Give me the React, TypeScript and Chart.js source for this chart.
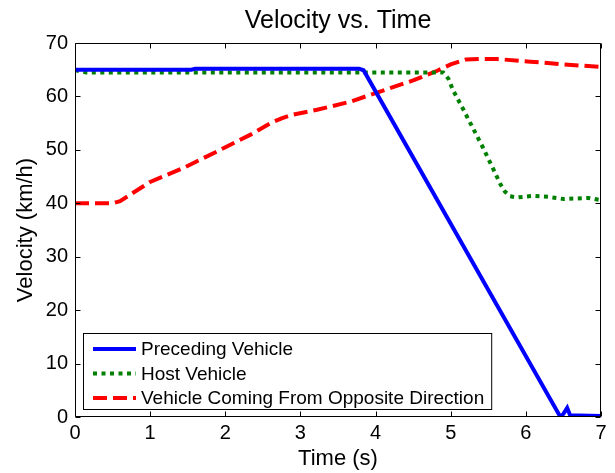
import { useEffect, useRef } from "react";
import { Chart, registerables } from "chart.js";

Chart.register(...registerables);

const FONT = "'Liberation Sans', Arial, Helvetica, sans-serif";

const chartTitle = "Velocity vs. Time";
const xTitle = "Time (s)";
const yTitle = "Velocity (km/h)";
const xTickValues = [0, 1, 2, 3, 4, 5, 6, 7];
const yTickValues = [0, 10, 20, 30, 40, 50, 60, 70];

const seriesLabels = [
  "Preceding Vehicle",
  "Host Vehicle",
  "Vehicle Coming From Opposite Direction",
];

const precedingTime = [0, 1.55, 1.6, 3.78, 3.84, 6.46, 6.5, 6.55, 6.59, 6.7, 7];
const precedingVel = [65.0, 65.0, 65.2, 65.2, 64.9, 0, 0.6, 1.7, 0.3, 0.3, 0.2];

const hostTime = [0, 0.15, 4.9, 4.97, 5.03, 5.17, 5.43, 5.57, 5.66, 5.72, 5.79, 5.89, 6.1, 6.3, 6.5, 6.83, 7];
const hostVel = [64.9, 64.5, 64.5, 63.3, 61.2, 57.5, 50.4, 46.3, 43.6, 42.2, 41.3, 41.1, 41.4, 41.2, 40.8, 41.0, 40.6];

const oppositeTime = [0, 0.5, 0.6, 0.8, 1.0, 1.44, 1.89, 2.33, 2.6, 2.75, 2.9, 3.22, 3.66, 3.93, 4.5, 4.82, 5.0, 5.2, 5.4, 5.62, 6.06, 6.5, 7];
const oppositeVel = [40, 40, 40.4, 42.2, 44, 46.6, 49.7, 52.8, 55.0, 55.9, 56.6, 57.5, 59.0, 60.3, 63.0, 64.8, 66.0, 66.9, 67.0, 67.0, 66.5, 66.0, 65.5];

const toPoints = (t: number[], v: number[]) => t.map((x, i) => ({ x, y: v[i] }));

const boxPlugin = {
  id: "matlabBox",
  afterDraw(chart: any) {
    const { ctx, chartArea } = chart;
    const { left, right, top, bottom } = chartArea;
    const xs = chart.scales.x;
    const ys = chart.scales.y;
    ctx.save();
    ctx.fillStyle = "#000";
    ctx.font = `25px ${FONT}`;
    ctx.textAlign = "center";
    ctx.textBaseline = "alphabetic";
    ctx.fillText(chartTitle, (left + right) / 2, 28);

    ctx.strokeStyle = "#000";
    ctx.lineWidth = 1;
    const L = Math.round(left) + 0.5;
    const R = Math.round(right) - 0.5;
    const T = Math.round(top) + 0.5;
    const B = Math.round(bottom) - 0.5;
    ctx.beginPath();
    ctx.rect(L, T, R - L, B - T);
    ctx.stroke();
    const tl = 5;
    ctx.beginPath();
    xTickValues.forEach((v) => {
      const px = Math.round(xs.getPixelForValue(v)) + 0.5;
      ctx.moveTo(px, B);
      ctx.lineTo(px, B - tl);
      ctx.moveTo(px, T);
      ctx.lineTo(px, T + tl);
    });
    yTickValues.forEach((v) => {
      const py = Math.round(ys.getPixelForValue(v)) + 0.5;
      ctx.moveTo(L, py);
      ctx.lineTo(L + tl, py);
      ctx.moveTo(R, py);
      ctx.lineTo(R - tl, py);
    });
    ctx.stroke();

    ctx.font = `19px ${FONT}`;
    const rowH = 24.5;
    const lx = Math.round(left) + 8;
    const textX = lx + 58;
    let maxW = 0;
    chart.data.datasets.forEach((ds: any) => {
      maxW = Math.max(maxW, ctx.measureText(ds.label).width);
    });
    const bw = textX - lx + maxW + 7;
    const bh = 76;
    const by = Math.round(bottom) - 8 - bh;
    ctx.fillStyle = "#fff";
    ctx.fillRect(lx + 0.5, by + 0.5, bw, bh);
    ctx.strokeStyle = "#000";
    ctx.lineWidth = 1;
    ctx.strokeRect(lx + 0.5, by + 0.5, bw, bh);
    chart.data.datasets.forEach((ds: any, i: number) => {
      const cy = by + 16 + i * rowH;
      ctx.save();
      ctx.strokeStyle = ds.borderColor;
      ctx.lineWidth = ds.borderWidth;
      ctx.setLineDash(ds.borderDash || []);
      ctx.lineCap = "butt";
      ctx.beginPath();
      ctx.moveTo(lx + 10, cy);
      ctx.lineTo(lx + 53, cy);
      ctx.stroke();
      ctx.restore();
      ctx.fillStyle = "#000";
      ctx.textAlign = "left";
      ctx.textBaseline = "middle";
      ctx.fillText(ds.label, textX, cy + 1);
    });
    ctx.restore();
  },
};

export default function App() {
  const ref = useRef<HTMLCanvasElement | null>(null);
  useEffect(() => {
    if (!ref.current) return;
    const chart = new Chart(ref.current, {
      type: "line",
      data: {
        datasets: [
          {
            label: seriesLabels[0],
            data: toPoints(precedingTime, precedingVel),
            borderColor: "#0000ff",
            borderWidth: 4,
            pointRadius: 0,
            tension: 0,
          },
          {
            label: seriesLabels[1],
            data: toPoints(hostTime, hostVel),
            borderColor: "#008000",
            borderWidth: 4,
            borderDash: [4, 4.5],
            pointRadius: 0,
            tension: 0,
          },
          {
            label: seriesLabels[2],
            data: toPoints(oppositeTime, oppositeVel),
            borderColor: "#ff0000",
            borderWidth: 4,
            borderDash: [14, 6],
            pointRadius: 0,
            tension: 0,
          },
        ],
      },
      options: {
        responsive: false,
        animation: false,
        layout: { padding: { top: 43, right: 14, left: 0, bottom: 0 } },
        plugins: {
          legend: { display: false },
          title: { display: false },
          tooltip: { enabled: false },
        },
        scales: {
          x: {
            type: "linear",
            min: 0,
            max: 7,
            afterBuildTicks: (s: any) => {
              s.ticks = xTickValues.map((value) => ({ value }));
            },
            afterFit: (s: any) => {
              s.height = 56;
            },
            grid: { display: false, drawTicks: false, tickLength: 0 },
            border: { display: false },
            ticks: {
              color: "#000",
              font: { family: FONT, size: 20 },
              padding: 4,
              maxRotation: 0,
              autoSkip: false,
            },
            title: {
              display: true,
              text: xTitle,
              color: "#000",
              font: { family: FONT, size: 22 },
              padding: { top: 0, bottom: 1 },
            },
          },
          y: {
            type: "linear",
            min: 0,
            max: 70,
            afterBuildTicks: (s: any) => {
              s.ticks = yTickValues.map((value) => ({ value }));
            },
            afterFit: (s: any) => {
              s.width = 75;
            },
            grid: { display: false, drawTicks: false, tickLength: 0 },
            border: { display: false },
            ticks: {
              color: "#000",
              font: { family: FONT, size: 20 },
              padding: 7,
              autoSkip: false,
            },
            title: {
              display: true,
              text: yTitle,
              color: "#000",
              font: { family: FONT, size: 22 },
              padding: { top: 13, bottom: 0 },
            },
          },
        },
      },
      plugins: [boxPlugin],
    } as any);
    return () => chart.destroy();
  }, []);
  return (
    <div style={{ position: "absolute", left: 0, top: 0, width: 615, height: 473, background: "#fff" }}>
      <canvas ref={ref} width={615} height={473} />
    </div>
  );
}
